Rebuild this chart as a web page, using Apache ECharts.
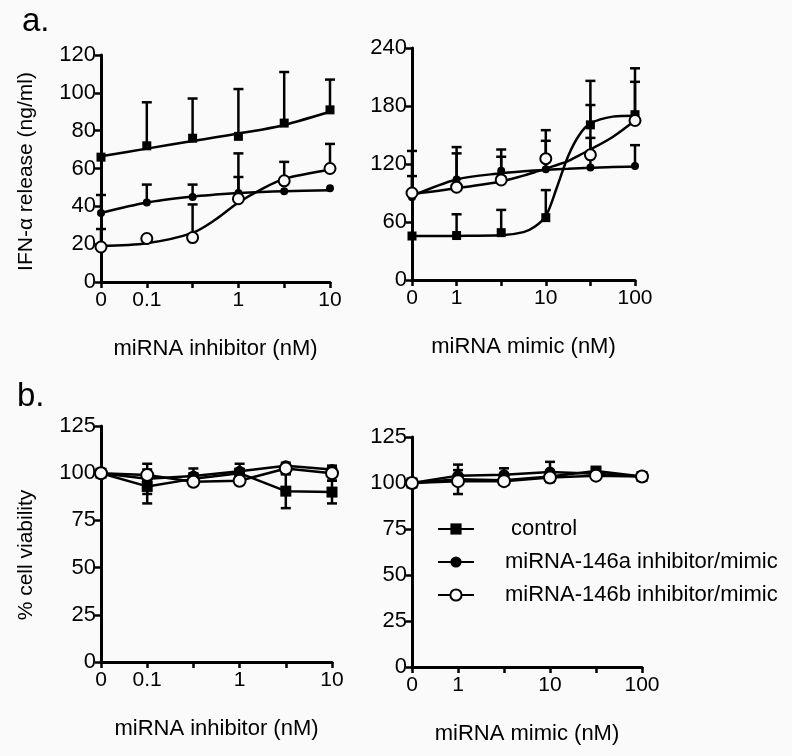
<!DOCTYPE html>
<html><head><meta charset="utf-8">
<script src="https://cdn.jsdelivr.net/npm/echarts@6/dist/echarts.min.js"></script>
<style>html,body{margin:0;padding:0;background:#fafafa}#c{width:792px;height:756px}</style>
</head><body><div id="c"></div>
<script>
// ---- tick labels (x positions are equally spaced doses) ----
const inhDoses = ['0','0.1','0.3','1','3','10'];
const mimDoses = ['0','1','3','10','30','100'];
const inhLabels = ['0','0.1','','1','','10'];
const mimLabels = ['0','1','','10','','100'];

// ---- Panel a, inhibitor: IFN-alpha release (ng/ml) ----
const aInhCtrl   = [66, 72, 76, 77, 84, 91];
const aInhCtrlSD = [0, 23, 21, 25, 27, 16];
const aInhA      = [36.5, 42, 45, 47, 48, 49.5];
const aInhASD    = [9.5, 9.5, 6.5, 8.5, 0, 0];
const aInhB      = [18.5, 23, 23.5, 44, 53.5, 60];
const aInhBSD    = [9.5, 0, 17.5, 24, 10, 13];
// fitted curves (x = dose position)
const aInhCurveX    = [0, 1, 2, 2.5, 3, 3.5, 4, 5];
const aInhCtrlCurve = [66.5, 70.5, 74.5, 76.5, 78.5, 80.5, 83, 90];
const aInhACurve    = [36.5, 42, 45.2, 46.2, 47, 47.6, 48, 48.5];
const aInhBCurve    = [19, 20.5, 26, 33, 42, 49, 54.5, 59.3];

// ---- Panel a, mimic ----
const aMimCtrl   = [45.5, 46, 49, 64.5, 160.5, 171];
const aMimCtrlSD = [0, 22, 23.5, 28.5, 45.5, 48];
const aMimA      = [85.5, 104, 113, 114.5, 116.5, 118];
const aMimASD    = [22, 27, 14.5, 29.5, 30.5, 21.5];
const aMimB      = [90, 96, 103.5, 125.5, 129.5, 165];
const aMimBSD    = [43.5, 41.5, 31.5, 29.5, 51.5, 40];
const aMimCurveX    = [0, 1, 2, 2.5, 2.75, 3, 3.25, 3.5, 3.75, 4, 4.5, 5];
const aMimCtrlCurve = [45.5, 45.6, 46.2, 49.5, 55, 66, 96, 128, 150, 162, 169, 170];
const aMimACurve    = [87, 104, 110.5, 112.5, 113.3, 114, 114.6, 115, 115.6, 116, 117, 117.5];
const aMimBCurve    = [89, 95, 102, 108, 111.5, 115, 119, 123, 129, 135, 148, 165];

// ---- Panel b, inhibitor: % cell viability ----
const bInhCtrl   = [100, 93, 97, 100, 90.5, 90];
const bInhCtrlSD = [0, 9, 3, 0, 9, 6];
const bInhA      = [100, 97, 98.5, 101, 104, 102];
const bInhASD    = [0, 8, 4, 4, 0, 0];
const bInhB      = [100, 99, 95.5, 96, 102.5, 100];
const bInhBSD    = [0, 0, 0, 0, 3, 4];

// ---- Panel b, mimic ----
const bMimCtrl   = [100, 102, 101.5, 103.5, 106.5, 103.5];
const bMimCtrlSD = [0, 8, 0, 0, 2, 0];
const bMimA      = [100, 104, 104.5, 106, 105, 103.5];
const bMimASD    = [0, 3, 3.5, 5.5, 0, 0];
const bMimB      = [100, 101, 101, 103, 104, 103.5];
const bMimBSD    = [0, 0, 0, 0, 0, 0];

const seriesNames = [' control', 'miRNA-146a inhibitor/mimic', 'miRNA-146b inhibitor/mimic'];

const FONT = 'Liberation Sans, Arial, sans-serif';
const BG = '#fafafa';
const LW = 2.5;

const grids = [
  {left: 101, top: 55, width: 229, height: 227},
  {left: 412, top: 48, width: 223, height: 232},
  {left: 101, top: 426, width: 231, height: 236},
  {left: 412, top: 437, width: 230, height: 230}
];

function xAxis(g, labels, name) {
  return {
    type: 'value', gridIndex: g, min: 0, max: 5, interval: 1,
    name: name, nameLocation: 'middle', nameGap: 56,
    nameTextStyle: {fontFamily: FONT, fontSize: 22, color: '#000'},
    axisLine: {lineStyle: {color: '#000', width: 3}},
    axisTick: {length: 6, lineStyle: {color: '#000', width: 2.5}},
    axisLabel: {formatter: v => labels[v] || '', fontFamily: FONT, fontSize: 21, color: '#000', margin: 8},
    splitLine: {show: false}
  };
}
function yAxis(g, max, interval, name, pad) {
  return {
    type: 'value', gridIndex: g, min: 0, max: max, interval: interval,
    name: name || '', nameLocation: 'middle', nameGap: 64,
    nameTextStyle: {fontFamily: FONT, fontSize: 21, color: '#000', padding: pad || 0},
    axisLine: {show: true, lineStyle: {color: '#000', width: 3}},
    axisTick: {show: true, length: 6, lineStyle: {color: '#000', width: 2.5}},
    axisLabel: {fontFamily: FONT, fontSize: 22, color: '#000', margin: 5},
    splitLine: {show: false}
  };
}

const topMarkers = [
  {symbol: 'rect', symbolSize: 9, itemStyle: {color: '#000', opacity: 1}},
  {symbol: 'circle', symbolSize: 8, itemStyle: {color: '#000', opacity: 1}},
  {symbol: 'circle', symbolSize: 11, itemStyle: {color: BG, borderColor: '#000', borderWidth: 2, opacity: 1}}
];
const botMarkers = [
  {symbol: 'rect', symbolSize: 11, itemStyle: {color: '#000', opacity: 1}},
  {symbol: 'circle', symbolSize: 11, itemStyle: {color: '#000', opacity: 1}},
  {symbol: 'circle', symbolSize: 12, itemStyle: {color: BG, borderColor: '#000', borderWidth: 2, opacity: 1}}
];

function errRender(params, api) {
  const x = api.value(0), y = api.value(1), up = api.value(2), dn = api.value(3);
  const c = api.coord([x, y]);
  const ch = [];
  const cap = 5;
  const st = {stroke: '#000', lineWidth: LW};
  if (up > 0) {
    const t = api.coord([x, y + up]);
    ch.push({type: 'line', shape: {x1: c[0], y1: c[1], x2: t[0], y2: t[1]}, style: st});
    ch.push({type: 'line', shape: {x1: t[0] - cap, y1: t[1], x2: t[0] + cap, y2: t[1]}, style: st});
  }
  if (dn > 0) {
    const b = api.coord([x, y - dn]);
    ch.push({type: 'line', shape: {x1: c[0], y1: c[1], x2: b[0], y2: b[1]}, style: st});
    ch.push({type: 'line', shape: {x1: b[0] - cap, y1: b[1], x2: b[0] + cap, y2: b[1]}, style: st});
  }
  return {type: 'group', children: ch};
}

const series = [];
function addErr(g, vals, sd, both) {
  series.push({
    type: 'custom', xAxisIndex: g, yAxisIndex: g, clip: false, silent: true, z: 1,
    renderItem: errRender, encode: {x: 0, y: 1},
    data: vals.map((v, i) => [i, v, sd[i], both ? sd[i] : 0])
  });
}
// Panel a: fitted curves + markers + upward error bars
function addFitPanel(g, groups, tag) {
  groups.forEach((gr, k) => {
    addErr(g, gr.vals, gr.sd, false);
    series.push({
      type: 'line', name: tag + '-fit-' + k, xAxisIndex: g, yAxisIndex: g,
      data: gr.cx.map((x, i) => [x, gr.curve[i]]), smooth: 0.3,
      showSymbol: false, silent: true, clip: false, z: 2,
      lineStyle: {color: '#000', width: LW}
    });
    series.push(Object.assign({
      type: 'scatter', name: tag + '-pts-' + k, xAxisIndex: g, yAxisIndex: g, clip: false, z: 3,
      data: gr.vals.map((v, i) => [i, v])
    }, topMarkers[k]));
  });
}
addFitPanel(0, [
  {vals: aInhCtrl, sd: aInhCtrlSD, cx: aInhCurveX, curve: aInhCtrlCurve},
  {vals: aInhA, sd: aInhASD, cx: aInhCurveX, curve: aInhACurve},
  {vals: aInhB, sd: aInhBSD, cx: aInhCurveX, curve: aInhBCurve}
], 'aInh');
addFitPanel(1, [
  {vals: aMimCtrl, sd: aMimCtrlSD, cx: aMimCurveX, curve: aMimCtrlCurve},
  {vals: aMimA, sd: aMimASD, cx: aMimCurveX, curve: aMimACurve},
  {vals: aMimB, sd: aMimBSD, cx: aMimCurveX, curve: aMimBCurve}
], 'aMim');

// Panel b: connected points with symmetric error bars
function addLinePanel(g, groups, names) {
  groups.forEach((gr, k) => {
    addErr(g, gr.vals, gr.sd, true);
    series.push(Object.assign({
      type: 'line', name: names[k], xAxisIndex: g, yAxisIndex: g, clip: false, z: 3,
      showSymbol: true, showAllSymbol: true,
      lineStyle: {color: '#000', width: LW},
      data: gr.vals.map((v, i) => [i, v])
    }, botMarkers[k]));
  });
}
addLinePanel(2, [
  {vals: bInhCtrl, sd: bInhCtrlSD},
  {vals: bInhA, sd: bInhASD},
  {vals: bInhB, sd: bInhBSD}
], ['bInh-0', 'bInh-1', 'bInh-2']);
addLinePanel(3, [
  {vals: bMimCtrl, sd: bMimCtrlSD},
  {vals: bMimA, sd: bMimASD},
  {vals: bMimB, sd: bMimBSD}
], seriesNames);

const chart = echarts.init(document.getElementById('c'));
chart.setOption({
  backgroundColor: BG,
  animation: false,
  textStyle: {fontFamily: FONT},
  title: [
    {text: 'a.', left: 17, top: 0, textStyle: {fontFamily: FONT, fontSize: 33, fontWeight: 'normal', color: '#000'}},
    {text: 'b.', left: 12, top: 375, textStyle: {fontFamily: FONT, fontSize: 33, fontWeight: 'normal', color: '#000'}}
  ],
  grid: grids,
  xAxis: [
    xAxis(0, inhLabels, 'miRNA inhibitor (nM)'),
    xAxis(1, mimLabels, 'miRNA mimic (nM)'),
    xAxis(2, inhLabels, 'miRNA inhibitor (nM)'),
    xAxis(3, mimLabels, 'miRNA mimic (nM)')
  ],
  yAxis: [
    yAxis(0, 120, 20, 'IFN-\u03b1 release (ng/ml)', [0, 6, 0, 0]),
    yAxis(1, 240, 60),
    yAxis(2, 125, 25, '% cell viability', [0, 22, 0, 0]),
    yAxis(3, 125, 25)
  ],
  legend: {
    orient: 'vertical', left: 432, top: 513, itemWidth: 36, itemHeight: 14, itemGap: 11,
    selectedMode: false,
    data: seriesNames,
    textStyle: {fontFamily: FONT, fontSize: 22, color: '#000', padding: [0, 0, 0, 26]}
  },
  series: series
});
</script>
</body></html>
